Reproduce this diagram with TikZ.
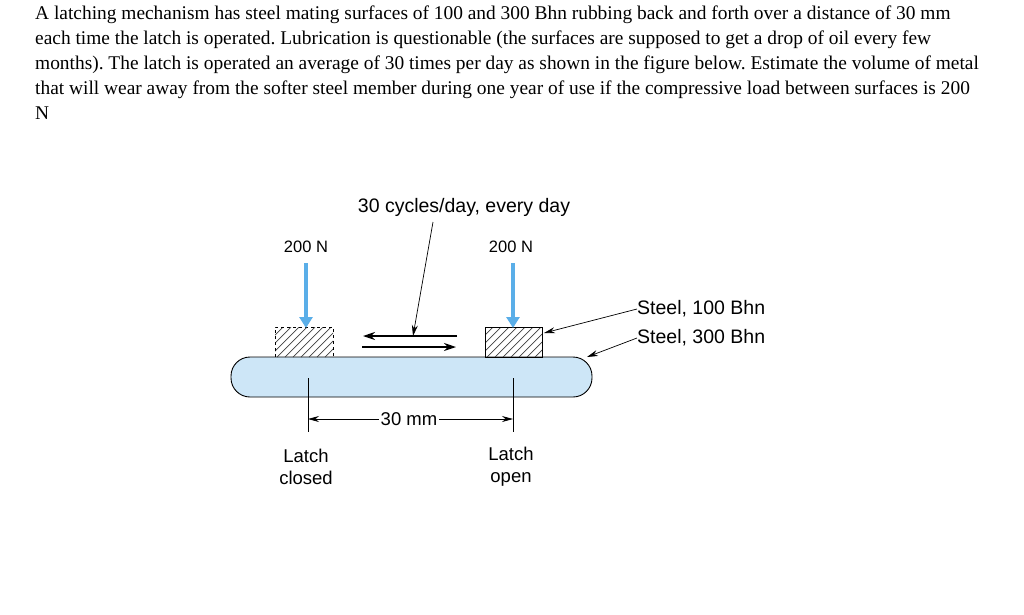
\documentclass[tikz,border=0pt]{standalone}
\usepackage{fontspec}
\setmainfont{Liberation Serif}
\setsansfont{Liberation Sans}
\usetikzlibrary{arrows.meta}
\definecolor{barfill}{HTML}{CDE6F7}
\definecolor{loadblue}{HTML}{5AAEE8}
\begin{document}
\frenchspacing
\begin{tikzpicture}[x=1pt,y=-1pt,
  lbl/.style={font=\sffamily\fontsize{18.5}{22}\selectfont,inner sep=0pt},
  load/.style={loadblue,line width=4.5pt,-{Triangle[width=13pt,length=11pt]}},
  thin/.style={line width=0.7pt},
  lead/.style={thin,-{Stealth[length=11pt,width=6pt]}}]
\useasboundingbox (0,0) rectangle (1024,614);
\fill[white] (0,0) rectangle (1024,614);
\node[anchor=north west,align=left,inner sep=0pt,font=\fontsize{19.4}{25}\selectfont] (para) at (35,6)
{A latching mechanism has steel mating surfaces of 100 and 300 Bhn rubbing back and forth over a distance of 30 mm\\
each time the latch is operated. Lubrication is questionable (the surfaces are supposed to get a drop of oil every few\\
months). The latch is operated an average of 30 times per day as shown in the figure below. Estimate the volume of metal\\
that will wear away from the softer steel member during one year of use if the compressive load between surfaces is 200\\
N};
% bar
\draw[fill=barfill,line width=0.9pt,rounded corners=19pt] (231,357) rectangle (592,397);
% hatching
\begin{scope}
\clip (275,327) rectangle (333,357);
\foreach \k in {0,...,14} \draw[thin,black!75] (245+\k*8,357) -- (275+\k*8,327);
\end{scope}
\begin{scope}
\clip (485,327) rectangle (542,357);
\foreach \k in {0,...,14} \draw[thin,black!75] (455+\k*8,357) -- (485+\k*8,327);
\end{scope}
\draw[dashed,thin] (275,357) -- (275,327) -- (333,327) -- (333,357);
\node[inner sep=0pt,minimum width=57pt,minimum height=30pt,draw,thin] (rb) at (513.5,342) {};
% loads
\node[lbl,font=\sffamily\fontsize{16.5}{20}\selectfont] (l1) at (306,247) {200 N};
\node[lbl,font=\sffamily\fontsize{16.5}{20}\selectfont] (l2) at (511,247) {200 N};
\coordinate (a1) at (306,263); \coordinate (b1) at (306,328);
\coordinate (a2) at (513,263); \coordinate (b2) at (513,328);
\draw[load] (a1) -- (b1);
\draw[load] (a2) -- (b2);
% motion arrows
\coordinate (m1a) at (457,336); \coordinate (m1b) at (363,336);
\coordinate (m2a) at (362,347); \coordinate (m2b) at (456,347);
\draw[line width=2pt,-{Stealth[length=12pt,width=8pt]}] (m1a) -- (m1b);
\draw[line width=2pt,-{Stealth[length=12pt,width=8pt]}] (m2a) -- (m2b);
\node[lbl,font=\sffamily\fontsize{19.5}{23}\selectfont] (cyc) at (464,207) {30 cycles/day, every day};
\coordinate (cl) at (413,336);
\draw[lead] (433,222) -- (cl);
% dimension
\coordinate (d1t) at (308,378); \coordinate (d1b) at (308,432);
\coordinate (d2t) at (513,378); \coordinate (d2b) at (513,432);
\draw[thin] (d1t) -- (d1b); \draw[thin] (d2t) -- (d2b);
\node[lbl,fill=white,inner xsep=2pt,inner ysep=3pt] (dim) at (409,419) {30 mm};
\draw[lead] (dim.west) -- (308,419);
\draw[lead] (dim.east) -- (513,419);
% latch labels
\node[lbl,align=center] (lc) at (306,467) {Latch\\closed};
\node[lbl,align=center] (lo) at (511,467) {Latch\\open};
% steel labels
\node[lbl,anchor=west,font=\sffamily\fontsize{19.5}{22}\selectfont] (s1) at (637,309) {Steel, 100 Bhn};
\node[lbl,anchor=west,font=\sffamily\fontsize{19.5}{22}\selectfont] (s2) at (637,338) {Steel, 300 Bhn};
\draw[lead] (s1.west) -- (544,333);
\draw[lead] (s2.west) -- (587,357);
\end{tikzpicture}
\end{document}
